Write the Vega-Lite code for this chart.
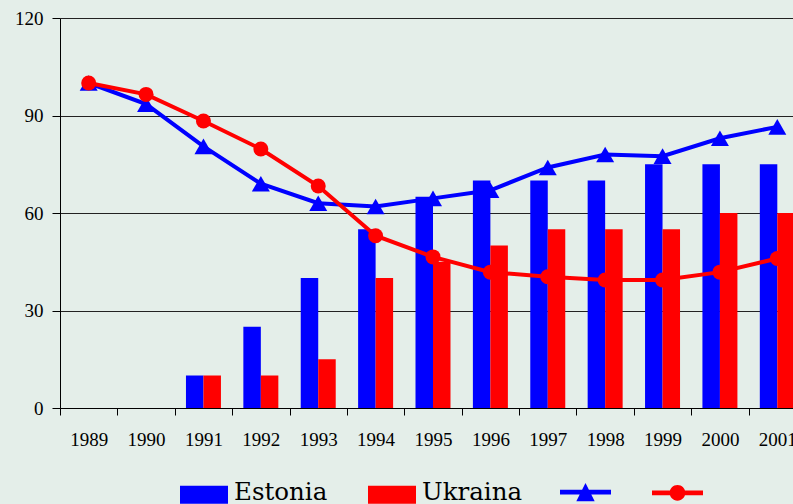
{
  "$schema": "https://vega.github.io/schema/vega-lite/v6.json",
  "width": 746,
  "height": 390,
  "autosize": {"type": "none"},
  "padding": {"left": 60, "top": 18, "right": 0, "bottom": 96},
  "background": "#e4eee9",
  "config": {
    "view": {"stroke": null},
    "axis": {
      "labelFont": "Liberation Serif",
      "labelFontSize": 19,
      "labelColor": "#000000",
      "tickColor": "#000000",
      "domainColor": "#000000",
      "tickWidth": 1,
      "domainWidth": 1
    }
  },
  "datasets": {
    "bars": [
      {"year": 1991, "country": "Estonia", "value": 10},
      {"year": 1992, "country": "Estonia", "value": 25},
      {"year": 1993, "country": "Estonia", "value": 40},
      {"year": 1994, "country": "Estonia", "value": 55},
      {"year": 1995, "country": "Estonia", "value": 65},
      {"year": 1996, "country": "Estonia", "value": 70},
      {"year": 1997, "country": "Estonia", "value": 70},
      {"year": 1998, "country": "Estonia", "value": 70},
      {"year": 1999, "country": "Estonia", "value": 75},
      {"year": 2000, "country": "Estonia", "value": 75},
      {"year": 2001, "country": "Estonia", "value": 75},
      {"year": 1991, "country": "Ukraina", "value": 10},
      {"year": 1992, "country": "Ukraina", "value": 10},
      {"year": 1993, "country": "Ukraina", "value": 15},
      {"year": 1994, "country": "Ukraina", "value": 40},
      {"year": 1995, "country": "Ukraina", "value": 45},
      {"year": 1996, "country": "Ukraina", "value": 50},
      {"year": 1997, "country": "Ukraina", "value": 55},
      {"year": 1998, "country": "Ukraina", "value": 55},
      {"year": 1999, "country": "Ukraina", "value": 55},
      {"year": 2000, "country": "Ukraina", "value": 60},
      {"year": 2001, "country": "Ukraina", "value": 60}
    ],
    "lines": [
      {"year": 1989, "line": "Estonia", "value": 100},
      {"year": 1990, "line": "Estonia", "value": 93.5},
      {"year": 1991, "line": "Estonia", "value": 80.5},
      {"year": 1992, "line": "Estonia", "value": 69},
      {"year": 1993, "line": "Estonia", "value": 63},
      {"year": 1994, "line": "Estonia", "value": 62},
      {"year": 1995, "line": "Estonia", "value": 64.5},
      {"year": 1996, "line": "Estonia", "value": 67},
      {"year": 1997, "line": "Estonia", "value": 74},
      {"year": 1998, "line": "Estonia", "value": 78},
      {"year": 1999, "line": "Estonia", "value": 77.5},
      {"year": 2000, "line": "Estonia", "value": 83},
      {"year": 2001, "line": "Estonia", "value": 86.5},
      {"year": 1989, "line": "Ukraina", "value": 100},
      {"year": 1990, "line": "Ukraina", "value": 96.5},
      {"year": 1991, "line": "Ukraina", "value": 88.3},
      {"year": 1992, "line": "Ukraina", "value": 79.7},
      {"year": 1993, "line": "Ukraina", "value": 68.3},
      {"year": 1994, "line": "Ukraina", "value": 53},
      {"year": 1995, "line": "Ukraina", "value": 46.5},
      {"year": 1996, "line": "Ukraina", "value": 41.8},
      {"year": 1997, "line": "Ukraina", "value": 40.4},
      {"year": 1998, "line": "Ukraina", "value": 39.4},
      {"year": 1999, "line": "Ukraina", "value": 39.4},
      {"year": 2000, "line": "Ukraina", "value": 41.8},
      {"year": 2001, "line": "Ukraina", "value": 46}
    ]
  },
  "encoding": {
    "x": {
      "field": "year",
      "type": "ordinal",
      "scale": {"domain": [1989, 1990, 1991, 1992, 1993, 1994, 1995, 1996, 1997, 1998, 1999, 2000, 2001], "paddingInner": 0, "paddingOuter": 0},
      "axis": {"title": null, "labelAngle": 0, "tickBand": "extent", "tickSize": 7, "labelPadding": 15, "grid": false, "domain": true}
    },
    "y": {
      "field": "value",
      "type": "quantitative",
      "scale": {"domain": [0, 120], "nice": false},
      "axis": {"title": null, "values": [0, 30, 60, 90, 120], "tickSize": 8, "labelPadding": 9, "grid": true, "gridColor": "#222222", "gridOpacity": 1, "gridWidth": 1}
    }
  },
  "layer": [
    {
      "data": {"name": "bars"},
      "mark": {"type": "bar"},
      "encoding": {
        "xOffset": {"field": "country", "type": "nominal", "scale": {"paddingOuter": 0.64, "paddingInner": 0}},
        "color": {
          "field": "country",
          "type": "nominal",
          "scale": {"range": ["#0000ff", "#ff0000"]},
          "legend": {
            "orient": "none",
            "legendX": 120,
            "legendY": 452.5,
            "direction": "horizontal",
            "title": null,
            "symbolType": "M-1,-0.375H1V0.375H-1Z",
            "symbolSize": 2304,
            "symbolStrokeWidth": 0,
            "symbolOpacity": 1,
            "labelFont": "DejaVu Serif",
            "labelFontSize": 24.5,
            "labelColor": "#000000",
            "labelOffset": 6,
            "columnPadding": 40,
            "padding": 0,
            "encode": {"labels": {"update": {"dy": {"value": -2}}}}
          }
        }
      }
    },
    {
      "data": {"name": "lines"},
      "mark": {"type": "line", "strokeWidth": 4},
      "encoding": {
        "stroke": {
          "field": "line",
          "type": "nominal",
          "scale": {"range": ["#0000ff", "#ff0000"]},
          "legend": {
            "orient": "none",
            "legendX": 500,
            "legendY": 448.5,
            "direction": "horizontal",
            "title": null,
            "symbolSize": 2601,
            "labelExpr": "''",
            "labelOffset": 0,
            "columnPadding": 41,
            "padding": 0,
            "encode": {
              "symbols": {
                "update": {
                  "fill": {"signal": "datum.value == 'Estonia' ? '#0000ff' : '#ff0000'"},
                  "stroke": {"value": "transparent"},
                  "strokeWidth": {"value": 0},
                  "opacity": {"value": 1},
                  "shape": {"signal": "datum.value == 'Estonia' ? 'M-1,-0.095H1V0.095H-1Z M0,-0.36L0.36,0.36H-0.36Z' : 'M-1,-0.095H1V0.095H-1Z M-0.31,0A0.31,0.31 0 1,1 0.31,0A0.31,0.31 0 1,1 -0.31,0Z'"}
                }
              }
            }
          }
        }
      }
    },
    {
      "data": {"name": "lines"},
      "mark": {"type": "point", "filled": true, "opacity": 1},
      "encoding": {
        "fill": {"field": "line", "type": "nominal", "scale": {"range": ["#0000ff", "#ff0000"]}, "legend": null},
        "shape": {"field": "line", "type": "nominal", "scale": {"range": ["triangle-up", "circle"]}, "legend": null},
        "size": {"condition": {"test": "datum.line == 'Ukraina'", "value": 225}, "value": 324}
      }
    }
  ]
}
